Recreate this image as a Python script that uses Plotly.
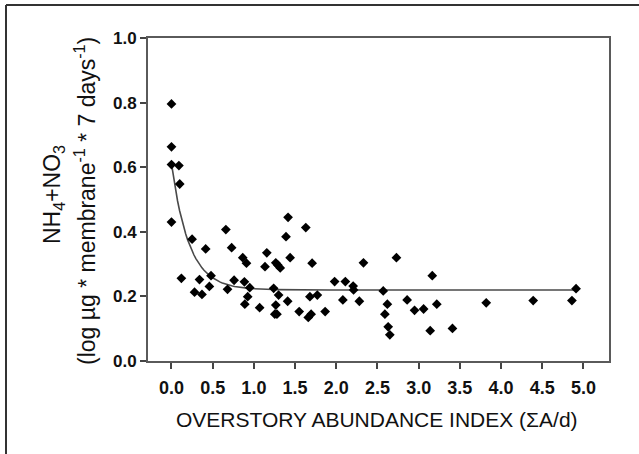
import plotly.graph_objects as go
import numpy as np

abundance_index = [0.00, 0.00, 0.00, 0.09, 0.10, 0.00, 0.66, 1.415, 1.39, 1.63, 0.25,
                   0.12, 0.28, 0.37, 0.34, 0.415, 0.46, 0.48, 0.68, 0.73, 0.76,
                   0.865, 0.885, 0.91, 0.89, 0.925, 0.95, 1.07, 1.135, 1.157, 1.24,
                   1.266, 1.29, 1.32, 1.30, 1.266, 1.254, 1.28, 1.41, 1.44, 1.55,
                   1.66, 1.695, 1.68, 1.707, 1.77, 1.865, 1.98, 2.08, 2.11, 2.205,
                   2.21, 2.28, 2.33, 2.57, 2.62, 2.59, 2.63, 2.65, 2.73, 2.86,
                   2.95, 3.06, 3.165, 3.14, 3.22, 3.41, 3.82, 4.39, 4.86, 4.91]
nitrogen = [0.796, 0.663, 0.608, 0.605, 0.548, 0.430, 0.407, 0.445, 0.385, 0.413, 0.377,
            0.256, 0.213, 0.206, 0.252, 0.347, 0.231, 0.264, 0.222, 0.351, 0.250,
            0.320, 0.245, 0.303, 0.176, 0.199, 0.227, 0.165, 0.292, 0.335, 0.225,
            0.304, 0.297, 0.288, 0.204, 0.173, 0.145, 0.145, 0.185, 0.320, 0.153,
            0.135, 0.145, 0.199, 0.303, 0.204, 0.153, 0.246, 0.189, 0.246, 0.232,
            0.220, 0.185, 0.304, 0.217, 0.176, 0.145, 0.106, 0.081, 0.320, 0.189,
            0.157, 0.161, 0.264, 0.094, 0.176, 0.101, 0.180, 0.187, 0.187, 0.224]

# Exponential-decay regression shown on the chart: y = y0 + a*exp(-b*x)
fit_y0 = 0.22
fit_a = 0.39
fit_b = 4.7
fit_x_min, fit_x_max = 0.0, 4.91

x_ticks = [0.0, 0.5, 1.0, 1.5, 2.0, 2.5, 3.0, 3.5, 4.0, 4.5, 5.0]
y_ticks = [0.0, 0.2, 0.4, 0.6, 0.8, 1.0]

x_title = "OVERSTORY ABUNDANCE INDEX (ΣA/d)"
y_title_1 = "NH<sub>4</sub>+NO<sub>3</sub>"
y_title_2 = "(log µg * membrane<sup>-1</sup> * 7 days<sup>-1</sup>)"

fit_x = np.linspace(fit_x_min, fit_x_max, 200)
fit_y = fit_y0 + fit_a * np.exp(-fit_b * fit_x)

fig = go.Figure()
fig.add_trace(go.Scatter(x=fit_x, y=fit_y, mode="lines",
                         line=dict(color="#4a4a4a", width=1.6), hoverinfo="skip"))
fig.add_trace(go.Scatter(x=abundance_index, y=nitrogen, mode="markers",
                         marker=dict(symbol="diamond", size=7.5, color="black",
                                     line=dict(width=0))))

L, R, T, B = 148, 30, 38, 93
W, H = 639, 454
pw, ph = W - L - R, H - T - B

FONT = "Liberation Sans, Arial"
axis_common = dict(showline=True, linecolor="#5a5a5a", linewidth=1.8, mirror=True,
                   ticks="outside", ticklen=6, tickwidth=1.5, tickcolor="#444",
                   showgrid=False, zeroline=False)

fig.update_xaxes(range=[-0.285, 5.31], tickvals=x_ticks,
                 ticktext=[f"<b>{v:.1f}</b>" for v in x_ticks],
                 tickfont=dict(family=FONT, size=18, color="#111"),
                 ticklabelstandoff=3, **axis_common)
fig.update_yaxes(range=[0, 1.0], tickvals=y_ticks,
                 ticktext=[f"<b>{v:.1f}</b>" for v in y_ticks],
                 tickfont=dict(family=FONT, size=17, color="#111"), **axis_common)

def px_x(p):
    return (p - L) / pw

def px_y(p):
    return (H - B - p) / ph

fig.add_annotation(text=x_title, xref="paper", yref="paper",
                   x=px_x(377), y=px_y(420), xanchor="center", yanchor="middle",
                   showarrow=False, font=dict(family=FONT, size=21, color="#111"))
fig.add_annotation(text=y_title_1, xref="paper", yref="paper", x=px_x(54), y=px_y(195),
                   xanchor="center", yanchor="middle", textangle=-90, showarrow=False,
                   font=dict(family=FONT, size=23, color="#111"))
fig.add_annotation(text=y_title_2, xref="paper", yref="paper", x=px_x(85), y=px_y(201),
                   xanchor="center", yanchor="middle", textangle=-90, showarrow=False,
                   font=dict(family=FONT, size=23, color="#111"))

# outer frame (left and top edges)
fig.add_shape(type="line", xref="paper", yref="paper", x0=px_x(6), x1=px_x(6),
              y0=px_y(5), y1=px_y(460), line=dict(color="#333", width=2))
fig.add_shape(type="line", xref="paper", yref="paper", x0=px_x(6), x1=px_x(645),
              y0=px_y(5), y1=px_y(5), line=dict(color="#333", width=2))

fig.update_layout(width=W, height=H, margin=dict(l=L, r=R, t=T, b=B),
                  plot_bgcolor="white", paper_bgcolor="white", showlegend=False)

fig.write_html("out.html")
